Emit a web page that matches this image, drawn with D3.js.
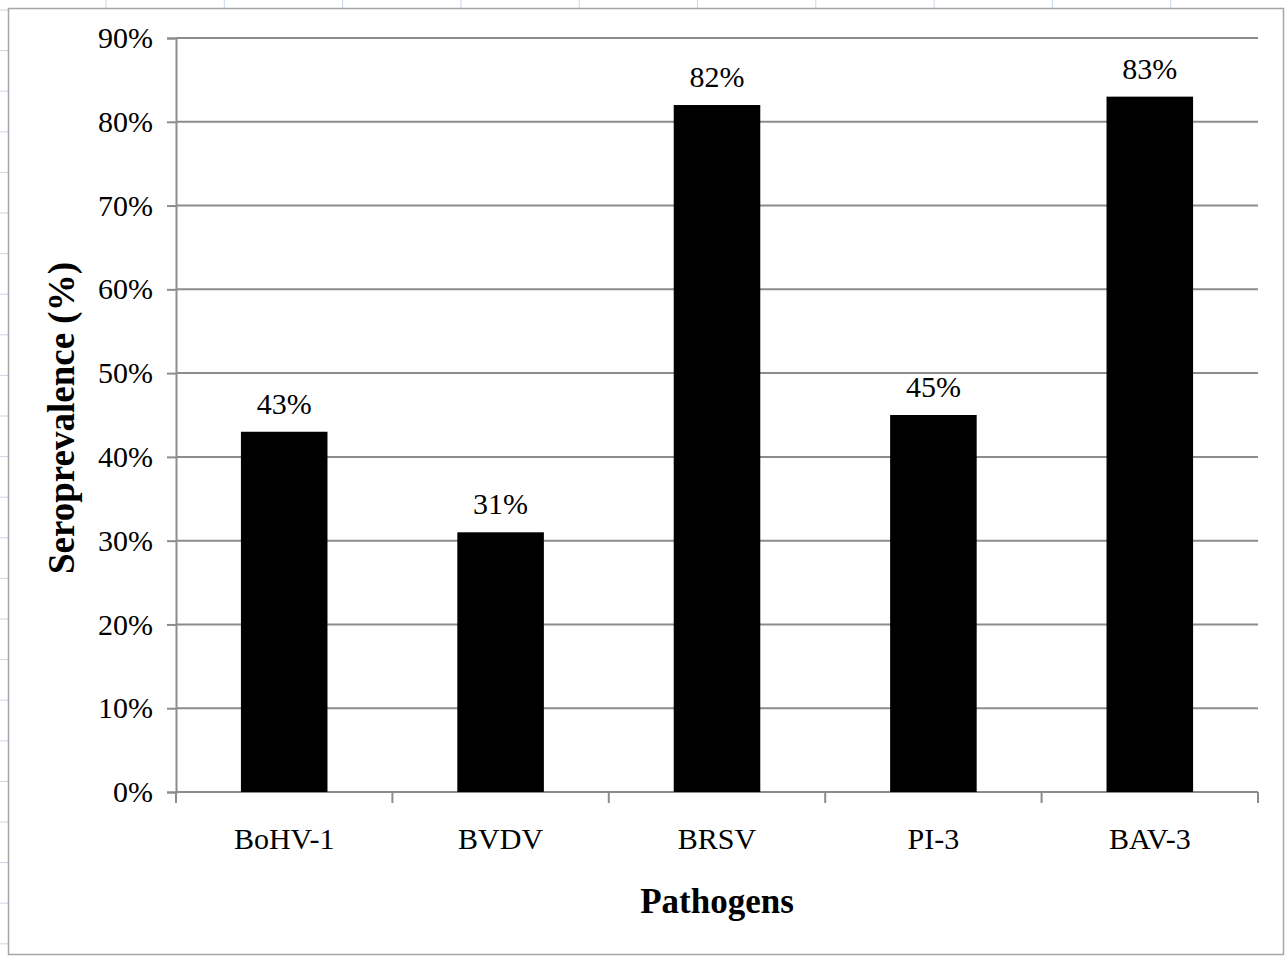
<!DOCTYPE html>
<html>
<head>
<meta charset="utf-8">
<script src="https://cdn.jsdelivr.net/npm/d3@7"></script>
<style>
  body { margin: 0; background: #fff; }
  text { font-family: "Liberation Serif", "Times New Roman", serif; fill: #000; }
</style>
</head>
<body>
<div id="chart"></div>
<script>
// data
var categories = ["BoHV-1", "BVDV", "BRSV", "PI-3", "BAV-3"];
var values = [0.43, 0.31, 0.82, 0.45, 0.83];
var yTicks = [0, 0.1, 0.2, 0.3, 0.4, 0.5, 0.6, 0.7, 0.8, 0.9];

var serif = '"Liberation Serif", "Times New Roman", serif';
var W = 1286, H = 956;
var margin = {top: 38, right: 28, bottom: 164, left: 176};
var width = W - margin.left - margin.right,
    height = H - margin.top - margin.bottom;

var svg = d3.select("#chart").append("svg")
    .attr("width", W)
    .attr("height", H);

// faint spreadsheet cell marks behind the chart frame
var deco = svg.append("g").attr("stroke", "#c9d6ea").attr("stroke-width", 1);
d3.range(106, W, 118.3).forEach(function(x) {
  deco.append("line").attr("x1", x).attr("x2", x).attr("y1", 0).attr("y2", 8);
});
d3.range(10, H, 40.6).forEach(function(y) {
  deco.append("line").attr("x1", 0).attr("x2", 8).attr("y1", y).attr("y2", y);
});

// chart frame
svg.append("rect")
    .attr("x", 8.5).attr("y", 8.5)
    .attr("width", 1275).attr("height", 946)
    .attr("fill", "#fff")
    .attr("stroke", "#a6a6a6")
    .attr("stroke-width", 1.5);

var g = svg.append("g")
    .attr("transform", "translate(" + margin.left + "," + margin.top + ")");

var x = d3.scaleBand()
    .domain(categories)
    .range([0, width])
    .paddingInner(0.6)
    .paddingOuter(0.3);

var y = d3.scaleLinear()
    .domain([0, 0.9])
    .range([height, 0]);

// gridlines
g.append("g")
  .selectAll("line")
  .data(yTicks.slice(1))
  .enter().append("line")
    .attr("x1", 0).attr("x2", width)
    .attr("y1", function(d) { return y(d); })
    .attr("y2", function(d) { return y(d); })
    .attr("stroke", "#8c8c8c")
    .attr("stroke-width", 2);

// y axis
var yAxis = g.append("g")
    .call(d3.axisLeft(y).tickValues(yTicks).tickFormat(d3.format(".0%")).tickSize(9).tickPadding(14));
yAxis.attr("font-family", null);
yAxis.select(".domain").attr("stroke", "#8c8c8c").attr("stroke-width", 2);
yAxis.selectAll(".tick line").attr("stroke", "#8c8c8c").attr("stroke-width", 2);
yAxis.selectAll("text").attr("font-size", 30).style("font-family", serif);

// x axis: ticks at band edges like Excel
var xAxisG = g.append("g").attr("transform", "translate(0," + height + ")");
xAxisG.append("line")
    .attr("x1", 0).attr("x2", width).attr("y1", 0).attr("y2", 0)
    .attr("stroke", "#8c8c8c").attr("stroke-width", 2);
var edges = d3.range(categories.length + 1).map(function(i) { return i * width / categories.length; });
xAxisG.selectAll("line.edge")
  .data(edges)
  .enter().append("line")
    .attr("class", "edge")
    .attr("x1", function(d) { return d; }).attr("x2", function(d) { return d; })
    .attr("y1", 0).attr("y2", 11)
    .attr("stroke", "#8c8c8c").attr("stroke-width", 2);
xAxisG.selectAll("text.cat")
  .data(categories)
  .enter().append("text")
    .attr("class", "cat")
    .attr("x", function(d) { return x(d) + x.bandwidth() / 2; })
    .attr("y", 57)
    .attr("text-anchor", "middle")
    .attr("font-size", 30)
    .text(function(d) { return d; });

// bars
var data = categories.map(function(c, i) { return {cat: c, value: values[i]}; });
g.append("g")
  .selectAll("rect")
  .data(data)
  .enter().append("rect")
    .attr("x", function(d) { return x(d.cat); })
    .attr("y", function(d) { return y(d.value); })
    .attr("width", x.bandwidth())
    .attr("height", function(d) { return height - y(d.value); })
    .attr("fill", "#000");

// value labels
g.append("g")
  .selectAll("text")
  .data(data)
  .enter().append("text")
    .attr("x", function(d) { return x(d.cat) + x.bandwidth() / 2; })
    .attr("y", function(d) { return y(d.value) - 18; })
    .attr("text-anchor", "middle")
    .attr("font-size", 30)
    .style("font-family", serif)
    .text(function(d) { return d3.format(".0%")(d.value); });

// axis titles
svg.append("text")
    .attr("x", margin.left + width / 2)
    .attr("y", 913)
    .attr("text-anchor", "middle")
    .attr("font-size", 35)
    .attr("font-weight", "bold")
    .text("Pathogens");

svg.append("text")
    .attr("transform", "translate(74," + (margin.top + height / 2 + 3) + ") rotate(-90)")
    .attr("text-anchor", "middle")
    .attr("font-size", 37)
    .attr("font-weight", "bold")
    .text("Seroprevalence (%)");
</script>
</body>
</html>
